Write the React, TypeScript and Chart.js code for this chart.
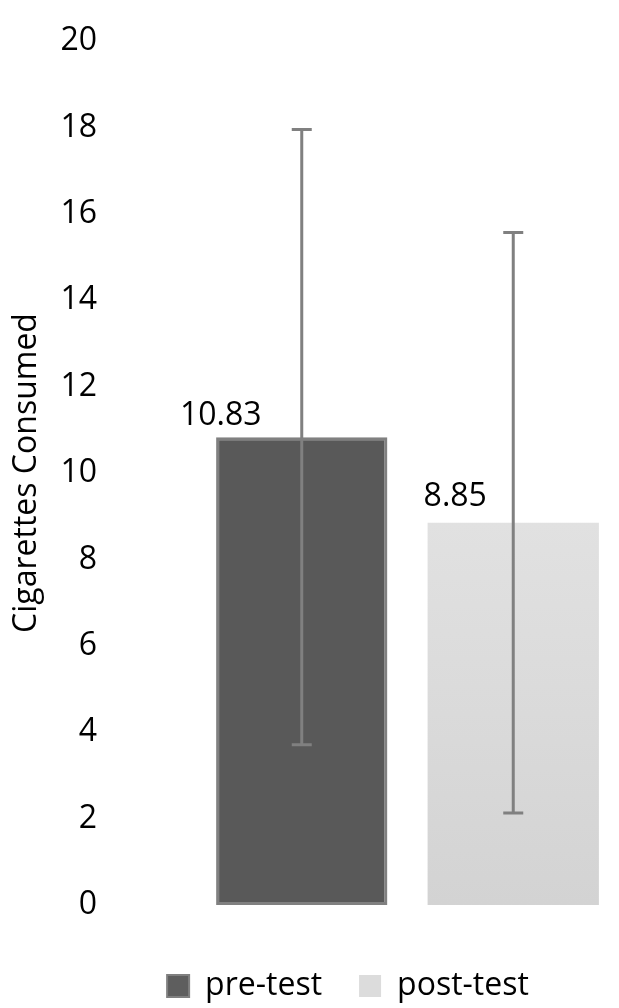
import React, { useEffect, useRef } from "react";
import { Chart, registerables } from "chart.js";

Chart.register(...registerables);

const categories = ["pre-test", "post-test"];
const means = [10.83, 8.85];
const errors = [7.12, 6.72];
const valueLabels = ["10.83", "8.85"];
const yMin = 0;
const yMax = 20;
const yStep = 2;
const yTitle = "Cigarettes Consumed";

const FONT = "'Open Sans', sans-serif";
const FS = 32;

const errorBarPlugin = {
  id: "errorBarsAndLabels",
  afterLayout(chart: any) {
    // shift the legend block to sit under the plot like the reference
    const lg = chart.legend;
    if (lg) lg.left = 77;
  },
  afterDatasetsDraw(chart: any) {
    const meta = chart.getDatasetMeta(0);
    const ys = chart.scales.y;
    const ctx = chart.ctx;
    ctx.save();
    ctx.strokeStyle = "#808080";
    ctx.lineWidth = 3;
    meta.data.forEach((bar: any, i: number) => {
      const x = bar.x;
      const top = ys.getPixelForValue(means[i] + errors[i]);
      const bot = ys.getPixelForValue(means[i] - errors[i]);
      ctx.beginPath();
      ctx.moveTo(x, top);
      ctx.lineTo(x, bot);
      ctx.moveTo(x - 10, top);
      ctx.lineTo(x + 10, top);
      ctx.moveTo(x - 10, bot);
      ctx.lineTo(x + 10, bot);
      ctx.stroke();
    });
    const dx = [-81, -58];
    const dy = [-21, -26];
    ctx.fillStyle = "#000";
    ctx.font = `${FS}px ${FONT}`;
    ctx.textAlign = "center";
    ctx.textBaseline = "middle";
    meta.data.forEach((bar: any, i: number) => {
      ctx.fillText(valueLabels[i], bar.x + dx[i], bar.y + dy[i]);
    });
    ctx.restore();
  },
};

export default function App() {
  const ref = useRef<HTMLCanvasElement | null>(null);
  useEffect(() => {
    if (!ref.current) return;
    const chart = new Chart(ref.current, {
      type: "bar",
      data: {
        labels: categories,
        datasets: [
          {
            data: means,
            backgroundColor: (c: any) => {
              if (c.dataIndex === 0) return "#595959";
              const chart = c.chart;
              const area = chart.chartArea;
              const ys = chart.scales?.y;
              if (!area || !ys) return "#d9d9d9";
              const top = ys.getPixelForValue(means[1]);
              if (!isFinite(top)) return "#d9d9d9";
              const g = chart.ctx.createLinearGradient(0, top, 0, area.bottom);
              g.addColorStop(0, "#e1e1e1");
              g.addColorStop(1, "#d3d3d3");
              return g;
            },
            borderColor: ["#808080", "rgba(0,0,0,0)"],
            borderWidth: [3, 0],
            borderSkipped: false,
            categoryPercentage: 1,
            barPercentage: 0.81,
          } as any,
        ],
      },
      options: {
        animation: false,
        responsive: true,
        maintainAspectRatio: false,
        layout: { padding: { top: 41, left: 0, right: 0, bottom: -4 } },
        scales: {
          x: {
            display: true,
            ticks: { display: false },
            grid: { display: false, drawTicks: false },
            border: { display: false },
            afterFit: (s: any) => {
              s.height = 28;
              s.paddingLeft = 0;
              s.paddingRight = 0;
            },
          },
          y: {
            min: yMin,
            max: yMax,
            ticks: {
              stepSize: yStep,
              padding: 99,
              color: "#000",
              font: { family: FONT, size: FS },
            },
            grid: { display: false, drawTicks: false },
            border: { display: false },
            title: {
              display: true,
              text: yTitle,
              color: "#000",
              font: { family: FONT, size: FS },
              padding: { top: 8, bottom: 0 },
            },
            afterFit: (s: any) => {
              s.width = 196;
              s.paddingTop = 0;
              s.paddingBottom = 0;
            },
          },
        },
        plugins: {
          tooltip: { enabled: false },
          legend: {
            display: true,
            position: "bottom",
            onClick: () => {},
            labels: {
              color: "#000",
              font: { family: FONT, size: FS },
              boxWidth: 22,
              boxHeight: 22,
              padding: 37,
              generateLabels: () =>
                categories.map((t, i) => ({
                  text: t,
                  fillStyle: i === 0 ? "#5e5e5e" : "#dcdcdc",
                  strokeStyle: i === 0 ? "#808080" : "#dcdcdc",
                  lineWidth: i === 0 ? 2 : 0,
                  hidden: false,
                  index: i,
                  fontColor: "#000",
                })),
            },
          },
        },
      } as any,
      plugins: [errorBarPlugin],
    });
    return () => chart.destroy();
  }, []);
  return (
    <div style={{ position: "absolute", left: 0, top: 0, width: 619, height: 1008, background: "#fff" }}>
      <canvas ref={ref} />
    </div>
  );
}
